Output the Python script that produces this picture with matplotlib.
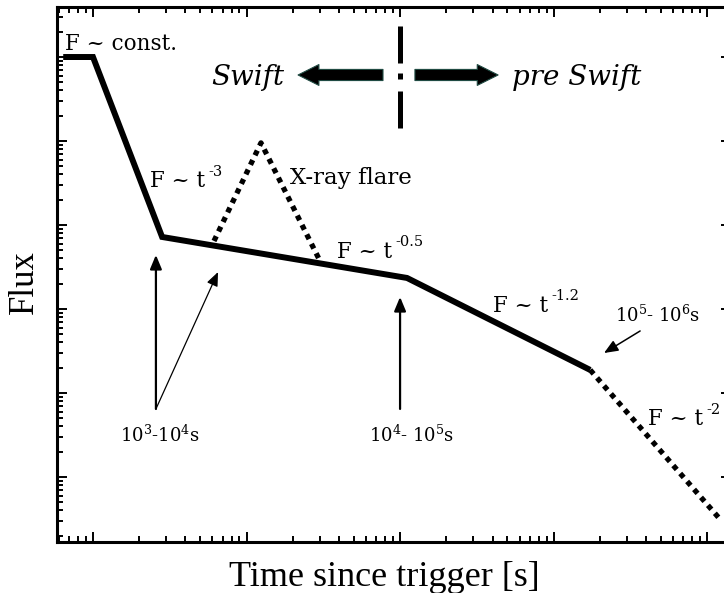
import numpy as np
import matplotlib
matplotlib.use("Agg")
import matplotlib.pyplot as plt
from matplotlib.ticker import FixedLocator, NullFormatter

plt.rcParams['mathtext.fontset'] = 'dejavuserif'

# ---- data (schematic canonical X-ray afterglow) ----
t_main = [64, 100, 282, 1.11e4, 1.73e5]
F_main = [1.0, 1.0, 7.2e-3, 2.34e-3, 1.88e-4]
t_late = [1.73e5, 1.22e6]
F_late = [1.88e-4, 3.1e-6]
t_flare = [614, 1242, 2965]
F_flare = [6.45e-3, 9.5e-2, 3.94e-3]

x_limits = [58.3, 1.43e6]
y_limits = [1.68e-6, 3.94]
x_decades = [1, 2, 3, 4, 5, 6]
y_decades = [-6, -5, -4, -3, -2, -1, 0]

# annotation arrows (tail -> tip), data coordinates
arrow_tails = [(257, 6.45e-5), (257, 6.45e-5), (1.0e4, 6.45e-5), (3.66e5, 5.47e-4)]
arrow_tips = [(257, 4.4e-3), (652, 2.75e-3), (1.0e4, 1.39e-3), (2.13e5, 2.99e-4)]
arrow_widths = [1.6, 0.9, 1.6, 1.1]

# Swift / pre Swift arrows
swift_tail, swift_tip = (7740, 0.611), (2166, 0.611)
pre_tail, pre_tip = (1.25e4, 0.611), (4.35e4, 0.611)
divider_t = 1.0e4

# slope labels: (x, y in axes fraction, base, superscript)
slope_labels = [
    (0.138, 0.6636, 'F ~ t', '-3'),
    (0.4154, 0.531, 'F ~ t', '-0.5'),
    (0.647, 0.43, 'F ~ t', '-1.2'),
    (0.877, 0.2187, 'F ~ t', '-2'),
]

W, H = 724, 593
fig = plt.figure(figsize=(W / 100, H / 100), dpi=100)
ax = fig.add_axes([57 / W, (H - 542) / H, (731 - 57) / W, (542 - 7) / H])
ax.set_xscale('log')
ax.set_yscale('log')

for s in ax.spines.values():
    s.set_linewidth(2.2)

subs = np.arange(2, 10)
ax.xaxis.set_major_locator(FixedLocator([10.0 ** d for d in x_decades]))
ax.yaxis.set_major_locator(FixedLocator([10.0 ** d for d in y_decades]))
ax.xaxis.set_minor_locator(FixedLocator([m * 10.0 ** d for d in x_decades for m in subs]))
ax.yaxis.set_minor_locator(FixedLocator([m * 10.0 ** d for d in y_decades for m in subs]))
ax.xaxis.set_minor_formatter(NullFormatter())
ax.yaxis.set_minor_formatter(NullFormatter())
ax.tick_params(which='both', direction='in', top=True, right=True,
               labelbottom=False, labelleft=False, width=1.4)
ax.tick_params(which='major', length=7.2)
ax.tick_params(which='minor', length=4.3)
ax.set_xlim(*x_limits)
ax.set_ylim(*y_limits)

# main light curve
ax.plot(t_main, F_main, color='black', lw=4.3, solid_joinstyle='miter',
        solid_capstyle='butt')
ax.plot(t_late, F_late, color='black', lw=3.8, linestyle=(0, (1, 1)),
        dash_capstyle='butt')
ax.plot(t_flare, F_flare, color='black', lw=3.8, linestyle=(0, (1, 1)),
        dash_capstyle='butt')

# annotation arrows
for tail, tip, w in zip(arrow_tails, arrow_tips, arrow_widths):
    ax.annotate('', xy=tip, xytext=tail,
                arrowprops=dict(arrowstyle='-|>,head_length=0.6,head_width=0.25',
                                lw=w, color='black', mutation_scale=14,
                                shrinkA=0, shrinkB=0))

# Swift arrows
for tail, tip in [(swift_tail, swift_tip), (pre_tail, pre_tip)]:
    ax.annotate('', xy=tip, xytext=tail,
                arrowprops=dict(arrowstyle='simple,head_length=1.5,head_width=1.5,tail_width=0.8',
                                fc='black', ec='#1f4a42', lw=0.8, mutation_scale=10,
                                shrinkA=0, shrinkB=0))

ax.axvline(divider_t, ymin=(542 - 128) / 535, ymax=(542 - 23) / 535,
           color='black', lw=3.6, linestyle=(0, (7.4, 2.4, 1.2, 2.0)),
           dash_capstyle='butt')

serif = 'DejaVu Serif'
fs = 15.5
ax.text(0.012, 0.9196, 'F ~ const.', transform=ax.transAxes, fontsize=fs,
        family=serif, va='baseline', ha='left')
ax.text(0.283, 0.854, 'Swift', transform=ax.transAxes, fontsize=20,
        family=serif, style='italic', va='baseline', ha='center')
ax.text(0.7715, 0.854, 'pre Swift', transform=ax.transAxes, fontsize=20,
        family=serif, style='italic', va='baseline', ha='center')
ax.text(0.3457, 0.669, 'X-ray flare', transform=ax.transAxes, fontsize=16.5,
        family=serif, va='baseline', ha='left')

for x, y, base, sup in slope_labels:
    t = ax.text(x, y, base, transform=ax.transAxes, fontsize=fs,
                family=serif, va='baseline', ha='left')
    ax.annotate(sup, xy=(1.0, 0.93), xycoords=t, xytext=(2, 0),
                textcoords='offset points', fontsize=10.5, family=serif,
                ha='left', va='center')

ax.text(0.828, 0.411, r'10$^{5}$- 10$^{6}$s', transform=ax.transAxes, fontsize=13,
        family=serif, va='baseline', ha='left')
ax.text(0.0935, 0.187, r'10$^{3}$-10$^{4}$s', transform=ax.transAxes, fontsize=13,
        family=serif, va='baseline', ha='left')
ax.text(0.463, 0.187, r'10$^{4}$- 10$^{5}$s', transform=ax.transAxes, fontsize=13,
        family=serif, va='baseline', ha='left')

fig.text(384 / W, 1 - 577 / H, 'Time since trigger [s]', fontsize=26,
         family='Liberation Serif', ha='center', va='center')
fig.text(24 / W, 1 - 282 / H, 'Flux', fontsize=25, rotation=90,
         family='Liberation Serif', ha='center', va='center')

fig.savefig('out.png', dpi=100)
